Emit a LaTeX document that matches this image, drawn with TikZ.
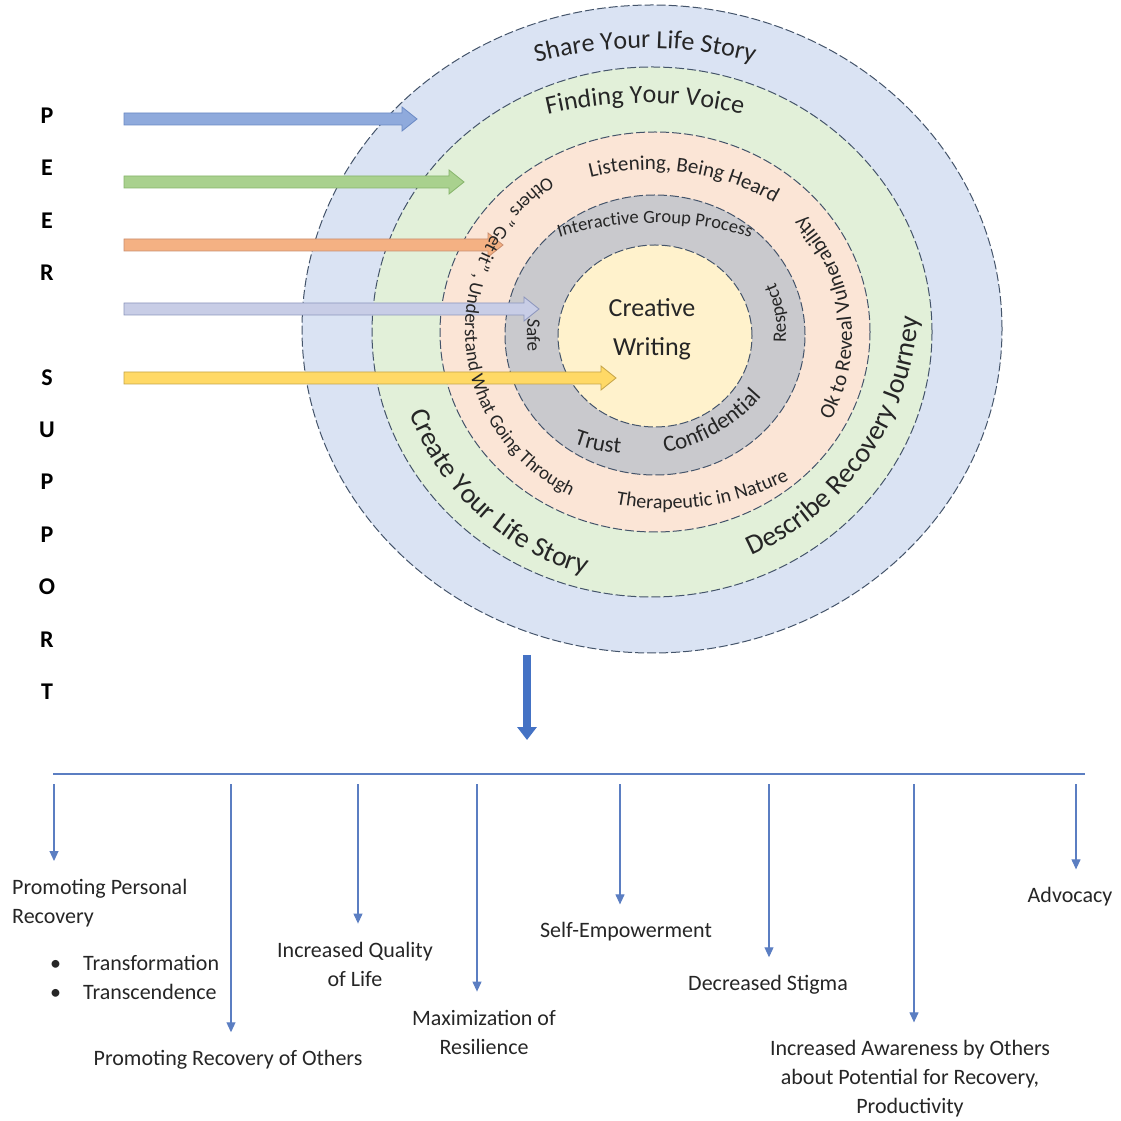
\documentclass[tikz,border=0pt]{standalone}
\usepackage{fontspec}
\setmainfont{Carlito}
\usetikzlibrary{shapes.geometric,decorations.text,calc,arrows.meta}
\definecolor{ringblue}{HTML}{DAE3F3}
\definecolor{ringgreen}{HTML}{E2F0D9}
\definecolor{ringpink}{HTML}{FBE5D6}
\definecolor{ringgray}{HTML}{C9C9CD}
\definecolor{ringyellow}{HTML}{FFF2CC}
\definecolor{ringedge}{HTML}{44546A}
\definecolor{arrblue}{HTML}{8FAADC}
\definecolor{arrblueD}{HTML}{6A89C4}
\definecolor{arrgreen}{HTML}{A9D18E}
\definecolor{arrgreenD}{HTML}{86B46B}
\definecolor{arrpink}{HTML}{F4B183}
\definecolor{arrpinkD}{HTML}{C98D6E}
\definecolor{arrlav}{HTML}{C8CDE6}
\definecolor{arrlavD}{HTML}{8C95BC}
\definecolor{arryel}{HTML}{FFD966}
\definecolor{arryelD}{HTML}{C4A448}
\definecolor{lineblue}{HTML}{5B7EC2}
\definecolor{bigblue}{HTML}{4472C4}
\definecolor{inktext}{HTML}{262626}

% text along a circular arc: cx, cy, R, start angle, end angle, font size, text
\newcommand\ringtext[7]{%
  \path[decorate,decoration={text along path,text align=center,text color=inktext,
    text={|\fontsize{#6}{#6}\selectfont|#7}}]
    ($(#1,#2)+(#4:#3pt)$) arc[start angle=#4,end angle=#5,radius=#3pt];}

% block arrow: y, x of tip, fill, border
\newcommand\blockarrow[4]{%
  \draw[blockarr,fill=#3,draw=#4] (124,{#1+6}) -- ({#2-15},{#1+6}) -- ({#2-15},{#1+12})
    -- (#2,#1) -- ({#2-15},{#1-12}) -- ({#2-15},{#1-6}) -- (124,{#1-6}) -- cycle;}

\begin{document}
\begin{tikzpicture}[x=1pt,y=1pt,
  ring/.style={ellipse,draw=ringedge,line width=1pt,dash pattern=on 9pt off 3pt,inner sep=0pt},
  blockarr/.style={line width=0.8pt},
  letter/.style={font=\fontsize{24}{24}\selectfont\bfseries,inner sep=0pt,text=black},
  outcome/.style={font=\fontsize{22}{29}\selectfont,align=center,inner sep=0pt,text=inktext},
  conn/.style={draw=lineblue,line width=1.1pt,-{Triangle[width=9pt,length=10pt]},shorten >=18pt},
  bigarrow/.style={draw=bigblue,line width=8pt,-{Triangle[width=19pt,length=13pt]}}
]
\useasboundingbox (0,0) rectangle (1121,1120);

% concentric rings
\node[ring,fill=ringblue,minimum width=700pt,minimum height=648pt] (rblue) at (652,791) {};
\node[ring,fill=ringgreen,minimum width=560pt,minimum height=530pt] (rgreen) at (652,788) {};
\node[ring,fill=ringpink,minimum width=430pt,minimum height=400pt] (rpink) at (655,788) {};
\node[ring,fill=ringgray,minimum width=300pt,minimum height=280pt] (rgray) at (655,785) {};
\node[ring,fill=ringyellow,minimum width=194pt,minimum height=182pt] (ryellow) at (655,784) {};

% block arrows
\blockarrow{1001}{417}{arrblue}{arrblueD}
\blockarrow{938}{464}{arrgreen}{arrgreenD}
\blockarrow{875}{503}{arrpink}{arrpinkD}
\blockarrow{811}{539}{arrlav}{arrlavD}
\blockarrow{742}{616}{arryel}{arryelD}

% curved ring texts
\ringtext{645}{652}{420}{150}{30}{26}{Share Your Life Story}
\ringtext{645}{597}{420}{150}{30}{26}{Finding Your Voice}
\ringtext{650}{700}{250}{142}{22}{21}{Listening, Being Heard}
\ringtext{655}{567}{330}{150}{30}{18.5}{Interactive Group Process}
\ringtext{655}{785}{131}{-50}{70}{19}{Respect}
\ringtext{655}{785}{128}{130}{230}{19}{Safe}
\ringtext{632}{836}{170}{228}{288}{23}{Trust}
\ringtext{632}{836}{172}{265}{335}{23}{Confidential}
\ringtext{680}{783}{172}{-62}{78}{21}{Ok to Reveal Vulnerability}
\ringtext{648}{790}{183}{104}{264}{19}{Others ” Get it” , Understand What Going Through}
\ringtext{667}{881}{270}{238}{318}{20}{Therapeutic in Nature}
\ringtext{655}{798}{262}{187.5}{267.5}{28}{Create Your Life Story}
\ringtext{637}{822}{282}{-75}{5}{28}{Describe Recovery Journey}

\node[font=\fontsize{26}{39}\selectfont,align=center,text=inktext,inner sep=0pt] (cw) at (652,791) {Creative\\Writing};

% PEER SUPPORT
\node[letter] (l1) at (47,1004) {P};
\node[letter] (l2) at (47,952) {E};
\node[letter] (l3) at (47,899) {E};
\node[letter] (l4) at (47,847) {R};
\node[letter] (l5) at (47,742) {S};
\node[letter] (l6) at (47,690) {U};
\node[letter] (l7) at (47,638) {P};
\node[letter] (l8) at (47,585) {P};
\node[letter] (l9) at (47,533) {O};
\node[letter] (l10) at (47,480) {R};
\node[letter] (l11) at (47,428) {T};

% big arrow down
\coordinate (bigA) at (527,465);
\coordinate (bigB) at (527,380);
\draw[bigarrow] (bigA) -- (bigB);

% horizontal line
\coordinate (hl1) at (53,346);
\coordinate (hl2) at (1085,346);
\draw[draw=lineblue,line width=1.4pt] (hl1) -- (hl2);

% outcomes
\node[outcome,align=left,anchor=north west] (t1) at (12,241)
 {Promoting Personal\\Recovery\\[18pt]\hspace*{38pt}\makebox[33pt][l]{\textbullet}Transformation\\\hspace*{38pt}\makebox[33pt][l]{\textbullet}Transcendence};
\node[outcome] (t2) at (228,60) {Promoting Recovery of Others};
\node[outcome] (t3) at (355,156) {Increased Quality\\of Life};
\node[outcome] (t4) at (484,88) {Maximization of\\Resilience};
\node[outcome] (t5) at (626,188) {Self-Empowerment};
\node[outcome] (t6) at (768,135) {Decreased Stigma};
\node[outcome] (t7) at (910,41) {Increased Awareness by Others\\about Potential for Recovery,\\Productivity};
\node[outcome] (t8) at (1070,223) {Advocacy};

\coordinate (s1) at (54,336);
\coordinate (s2) at (231,336);
\coordinate (s3) at (358,336);
\coordinate (s4) at (477,336);
\coordinate (s5) at (620,336);
\coordinate (s6) at (769,336);
\coordinate (s7) at (914,336);
\coordinate (s8) at (1076,336);
\draw[conn] (s1) -- (s1 |- t1.north);
\draw[conn] (s2) -- (s2 |- t2.north);
\draw[conn] (s3) -- (s3 |- t3.north);
\draw[conn] (s4) -- (s4 |- t4.north);
\draw[conn] (s5) -- (s5 |- t5.north);
\draw[conn] (s6) -- (s6 |- t6.north);
\draw[conn] (s7) -- (s7 |- t7.north);
\draw[conn] (s8) -- (s8 |- t8.north);
\end{tikzpicture}
\end{document}
